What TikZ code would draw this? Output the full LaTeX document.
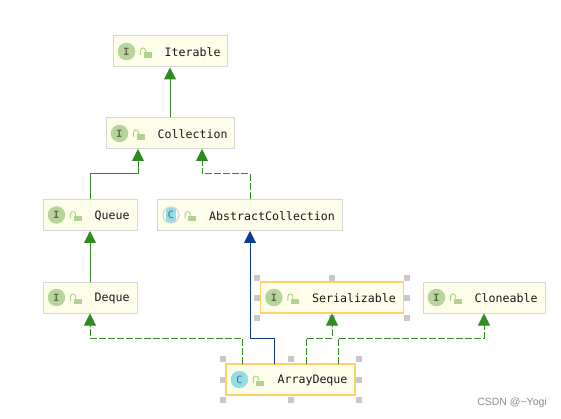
\documentclass[tikz,border=0pt]{standalone}
\usepackage{fontspec}
\setmainfont{Liberation Sans}
\newfontfamily\monofont{DejaVu Sans Mono}
\usetikzlibrary{arrows.meta,calc,positioning}
\definecolor{boxfill}{HTML}{FFFEEA}
\definecolor{boxline}{HTML}{D6D6D6}
\definecolor{pickline}{HTML}{FFD168}
\definecolor{pickdot}{HTML}{C8C8C8}
\definecolor{ifacegreen}{HTML}{B6D59A}
\definecolor{ifaceletter}{HTML}{5E6A4E}
\definecolor{classblue}{HTML}{94DCE8}
\definecolor{classletter}{HTML}{47626A}
\definecolor{lockgreen}{HTML}{AFD48F}
\definecolor{arrowgreen}{HTML}{2F8B22}
\definecolor{arrowblue}{HTML}{0A3C90}
\tikzset{
  typebox/.style={draw=boxline,fill=boxfill,line width=1pt,minimum height=31pt,inner sep=0pt},
  picked/.style={draw=pickline,line width=1.2pt},
  ifacebadge/.style={circle,fill=ifacegreen,text=ifaceletter,minimum size=17.5pt,inner sep=0pt,font=\monofont\bfseries\fontsize{10}{10}\selectfont},
  classbadge/.style={circle,fill=classblue,text=classletter,minimum size=17.5pt,inner sep=0pt,font=\monofont\fontsize{10}{10}\selectfont},
  abstractbadge/.style={classbadge,fill=white,draw=boxline,line width=1.2pt,minimum size=16pt,
    path picture={\fill[classblue] ($(path picture bounding box.center)+(-5,-8)$) rectangle ($(path picture bounding box.center)+(5,8)$);}},
  typename/.style={anchor=west,inner sep=0pt,font=\monofont\fontsize{11.6}{13}\selectfont,text=black!90},
  pickdotbox/.style={fill=pickdot,minimum size=5.5pt,inner sep=0pt},
  extends/.style={-{Triangle[length=12pt,width=12pt]},arrowgreen,line width=1pt},
  implements/.style={extends,dash pattern=on 7pt off 2pt},
  subclass/.style={extends,arrowblue}
}
\begin{document}
\begin{tikzpicture}[x=1pt,y=-1pt]
\useasboundingbox (0,0) rectangle (561,419);
\fill[white] (0,0) rectangle (561,419);
% selection handles
\foreach \hx/\hy in {257/278,332/278,407/278,257/298,407/298,257/318,332/318,407/318,
  223/359,291/359,359/359,223/380,359/380,223/400,291/400,359/400}
  \node[pickdotbox] (handle\hx\hy) at (\hx,\hy) {};
\node[typebox,minimum width=114pt] (iterable) at (170,51.5) {};
\node[ifacebadge] (iterablebadge) at ([xshift=14pt]iterable.west) {I};
\node[typename] (iterablename) at ([xshift=52pt,yshift=-1pt]iterable.west) {Iterable};
\node[typebox,minimum width=128pt] (collection) at (170,133.5) {};
\node[ifacebadge] (collectionbadge) at ([xshift=14pt]collection.west) {I};
\node[typename] (collectionname) at ([xshift=52pt,yshift=-1pt]collection.west) {Collection};
\node[typebox,minimum width=94pt] (queue) at (90,215) {};
\node[ifacebadge] (queuebadge) at ([xshift=14pt]queue.west) {I};
\node[typename] (queuename) at ([xshift=52pt,yshift=-1pt]queue.west) {Queue};
\node[typebox,minimum width=185pt] (abstract) at (250,215) {};
\node[abstractbadge] (abstractbadge) at ([xshift=14pt]abstract.west) {C};
\node[typename] (abstractname) at ([xshift=52pt,yshift=-1pt]abstract.west) {AbstractCollection};
\node[typebox,minimum width=94pt] (deque) at (90,297.5) {};
\node[ifacebadge] (dequebadge) at ([xshift=14pt]deque.west) {I};
\node[typename] (dequename) at ([xshift=52pt,yshift=-1pt]deque.west) {Deque};
\node[typebox,picked,minimum width=143pt] (serial) at (332,297.5) {};
\node[ifacebadge] (serialbadge) at ([xshift=14pt]serial.west) {I};
\node[typename] (serialname) at ([xshift=52pt,yshift=-1pt]serial.west) {Serializable};
\node[typebox,minimum width=122pt] (clone) at (484,297.5) {};
\node[ifacebadge] (clonebadge) at ([xshift=14pt]clone.west) {I};
\node[typename] (clonename) at ([xshift=52pt,yshift=-1pt]clone.west) {Cloneable};
\node[typebox,picked,minimum width=129pt] (array) at (290.5,379.5) {};
\node[classbadge] (arraybadge) at ([xshift=14pt]array.west) {C};
\node[typename] (arrayname) at ([xshift=52pt,yshift=-1pt]array.west) {ArrayDeque};
% open locks
\foreach \boxname in {iterable,collection,queue,abstract,deque,serial,clone,array}{
  \begin{scope}[shift={(\boxname.west)}]
    \fill[lockgreen] (31,1) rectangle (39,6.5);
    \draw[lockgreen,line width=1pt] (28,3.5) -- (28,-1) arc[start angle=180,end angle=360,radius=2.5] -- (33,1);
  \end{scope}
}
% ports away from the box centres
\coordinate (collectionleft) at (138,149);
\coordinate (collectionright) at (202,149);
\coordinate (arraydeque) at (242,364);
\coordinate (arrayblue) at (274,364);
\coordinate (arrayserial) at (306,364);
\coordinate (arrayclone) at (338,364);
\draw[extends] (collection.north) -- (iterable.south);
\draw[extends] (queue.north) |- (138,174) -- (collectionleft);
\draw[implements] (abstract.north) |- (202,174) -- (collectionright);
\draw[extends] (deque.north) -- (queue.south);
\draw[subclass] (arrayblue) |- (250,338) -- (abstract.south);
\draw[implements] (arraydeque) |- (90,338) -- (deque.south);
\draw[implements] (arrayserial) |- (332,338) -- (serial.south);
\draw[implements] (arrayclone) |- (484,338) -- (clone.south);
\node[anchor=east,inner sep=0pt,text=black!45,font=\fontsize{10.5}{12}\selectfont] (mark) at (547,403) {CSDN @\textasciitilde Yogi};
\end{tikzpicture}
\end{document}
